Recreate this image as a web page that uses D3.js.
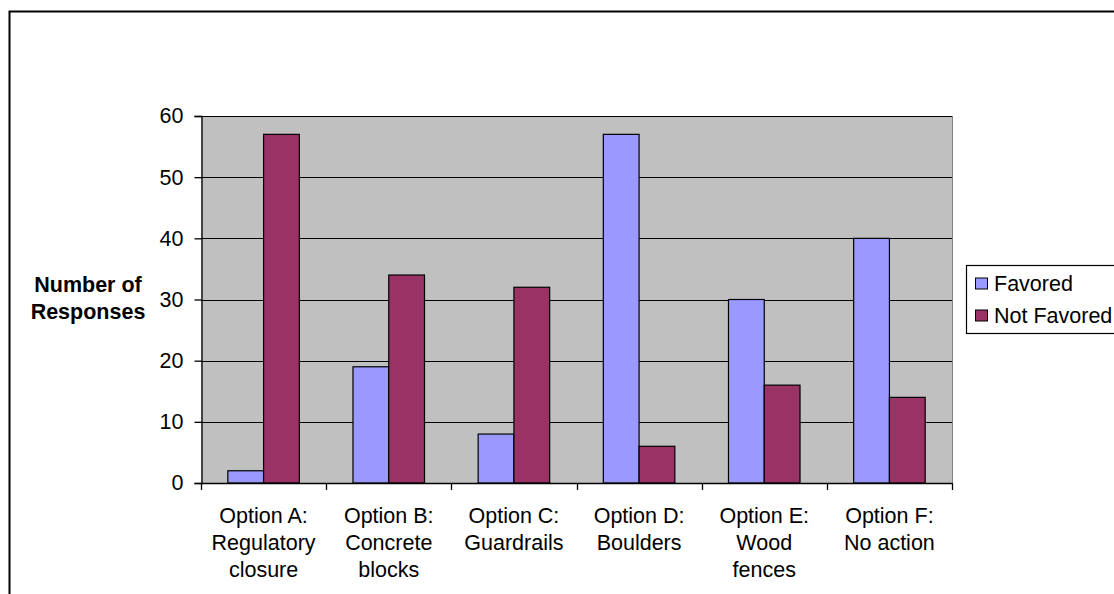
<!DOCTYPE html>
<html>
<head>
<meta charset="utf-8">
<script src="https://cdn.jsdelivr.net/npm/d3@7"></script>
<style>
  html, body { margin: 0; padding: 0; background: #fff; }
  svg { display: block; }
  text { font-family: "Liberation Sans", Arial, sans-serif; fill: #000; }
</style>
</head>
<body>
<svg id="chart" width="1114" height="594"></svg>
<script>
// Survey responses per barrier option
const categories = [
  ["Option A:", "Regulatory", "closure"],
  ["Option B:", "Concrete", "blocks"],
  ["Option C:", "Guardrails"],
  ["Option D:", "Boulders"],
  ["Option E:", "Wood", "fences"],
  ["Option F:", "No action"]
];
const seriesNames = ["Favored", "Not Favored"];
const favored    = [2, 19, 8, 57, 30, 40];
const notFavored = [57, 34, 32, 6, 16, 14];
const yTicks = [0, 10, 20, 30, 40, 50, 60];
const colors = ["#9999FF", "#993366"];

const svg = d3.select("#chart");
const fontSize = 21.5;

// chart area frame (extends past the window on the right and bottom)
svg.append("rect")
  .attr("x", 9.5).attr("y", 11.5)
  .attr("width", 1300).attr("height", 800)
  .attr("fill", "#fff").attr("stroke", "#000").attr("stroke-width", 2);

const plot = { left: 201, right: 952, top: 116, bottom: 483 };

const x = d3.scaleBand()
  .domain(d3.range(categories.length))
  .range([plot.left, plot.right])
  .paddingInner(0).paddingOuter(0);

const y = d3.scaleLinear().domain([0, 60]).range([plot.bottom, plot.top]);

// plot background
svg.append("rect")
  .attr("x", plot.left).attr("y", plot.top)
  .attr("width", plot.right - plot.left).attr("height", plot.bottom - plot.top)
  .attr("fill", "#C0C0C0");

// gridlines
svg.append("g").selectAll("line")
  .data(yTicks.filter(t => t > 0))
  .join("line")
  .attr("x1", plot.left).attr("x2", plot.right)
  .attr("y1", d => Math.round(y(d)) + 0.5).attr("y2", d => Math.round(y(d)) + 0.5)
  .attr("stroke", "#000").attr("stroke-width", 1);

// plot right border in gray
svg.append("line")
  .attr("x1", plot.right + 0.5).attr("x2", plot.right + 0.5)
  .attr("y1", plot.top).attr("y2", plot.bottom)
  .attr("stroke", "#808080");

// bars: each group spans 2 / 3.5 of the category band
const bw = x.bandwidth() / 3.5;
const series = [favored, notFavored];
series.forEach((vals, si) => {
  svg.append("g").selectAll("rect")
    .data(vals)
    .join("rect")
    .attr("x", (d, i) => x(i) + x.bandwidth() * 0.75 / 3.5 + bw * si)
    .attr("y", d => y(d))
    .attr("width", bw)
    .attr("height", d => y(0) - y(d))
    .attr("fill", colors[si])
    .attr("stroke", "#000").attr("stroke-width", 1.2);
});

// y axis
const yAxis = d3.axisLeft(y).tickValues(yTicks).tickSize(7).tickPadding(11);
const gy = svg.append("g")
  .attr("transform", `translate(${plot.left + 0.5},0)`)
  .call(yAxis);
gy.select(".domain").attr("stroke", "#000").attr("stroke-width", 1.3);
gy.selectAll(".tick line").attr("stroke", "#000").attr("stroke-width", 1.3);
gy.selectAll(".tick text")
  .attr("font-size", fontSize)
  .attr("font-family", "'Liberation Sans', Arial, sans-serif");

// x axis baseline and category tick marks
const xEdges = d3.range(categories.length + 1).map(i =>
  i < categories.length ? x(i) : x(categories.length - 1) + x.bandwidth());
svg.append("line")
  .attr("x1", plot.left).attr("x2", plot.right)
  .attr("y1", plot.bottom + 0.5).attr("y2", plot.bottom + 0.5)
  .attr("stroke", "#000").attr("stroke-width", 1.3);
svg.append("g").selectAll("line")
  .data(xEdges)
  .join("line")
  .attr("x1", d => Math.round(d) + 0.5).attr("x2", d => Math.round(d) + 0.5)
  .attr("y1", plot.bottom).attr("y2", plot.bottom + 7)
  .attr("stroke", "#000").attr("stroke-width", 1.3);

// category labels
const lab = svg.append("g");
categories.forEach((lines, i) => {
  const t = lab.append("text")
    .attr("x", x(i) + x.bandwidth() / 2)
    .attr("text-anchor", "middle")
    .attr("font-size", fontSize);
  lines.forEach((ln, k) => {
    t.append("tspan")
      .attr("x", x(i) + x.bandwidth() / 2)
      .attr("y", 523 + k * 27)
      .text(ln);
  });
});

// y axis title
const yt = svg.append("text")
  .attr("text-anchor", "middle")
  .attr("font-size", fontSize)
  .attr("font-weight", "bold");
["Number of", "Responses"].forEach((ln, k) => {
  yt.append("tspan").attr("x", 88).attr("y", 292 + k * 27).text(ln);
});

// legend
const legend = svg.append("g");
legend.append("rect")
  .attr("x", 966.5).attr("y", 265.5)
  .attr("width", 200).attr("height", 68)
  .attr("fill", "#fff").attr("stroke", "#000").attr("stroke-width", 1.2);
seriesNames.forEach((name, i) => {
  const cy = 283.5 + i * 32;
  legend.append("rect")
    .attr("x", 975.5).attr("y", cy - 5.5)
    .attr("width", 12).attr("height", 11)
    .attr("fill", colors[i]).attr("stroke", "#000").attr("stroke-width", 1);
  legend.append("text")
    .attr("x", 994).attr("y", cy + 7.5)
    .attr("font-size", fontSize)
    .text(name);
});
</script>
</body>
</html>
